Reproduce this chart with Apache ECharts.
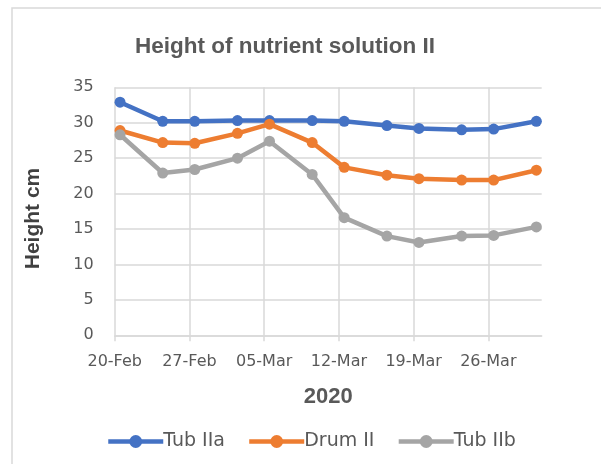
<!DOCTYPE html>
<html lang="en">
<head>
  <meta charset="UTF-8">
  <title>Height of nutrient solution II</title>
  <script src="https://cdn.jsdelivr.net/npm/echarts@6/dist/echarts.min.js"></script>
  <style>
    html, body { margin: 0; padding: 0; background: #fff; }
    #main { width: 601px; height: 464px; }
  </style>
</head>
<body>
  <div id="main"></div>
  <script>
    // measurement dates (2020) and heights in cm
    var dates = ['2020-02-20', '2020-02-24', '2020-02-27', '2020-03-02', '2020-03-05', '2020-03-09',
                 '2020-03-12', '2020-03-16', '2020-03-19', '2020-03-23', '2020-03-26', '2020-03-30'];
    var tubIIa  = [32.9, 30.2, 30.2, 30.3, 30.3, 30.3, 30.2, 29.6, 29.2, 29.0, 29.1, 30.2];
    var drumII  = [28.9, 27.2, 27.1, 28.5, 29.8, 27.2, 23.7, 22.6, 22.1, 21.9, 21.9, 23.3];
    var tubIIb  = [28.3, 22.9, 23.4, 25.0, 27.4, 22.7, 16.6, 14.0, 13.1, 14.0, 14.1, 15.3];
    var seriesNames = ['Tub IIa', 'Drum II', 'Tub IIb'];
    var colors = ['#4472C4', '#ED7D31', '#A5A5A5'];
    var months = ['Jan', 'Feb', 'Mar', 'Apr'];

    var startDay = Date.UTC(2020, 1, 20);
    var DAY = 86400000;

    // day offset from 20-Feb, points sit in the middle of their day
    function dayPos(s) {
      var p = s.split('-');
      return (Date.UTC(+p[0], +p[1] - 1, +p[2]) - startDay) / DAY + 0.5;
    }
    function fmtDay(v) {
      var d = new Date(startDay + v * DAY);
      var dd = d.getUTCDate();
      return (dd < 10 ? '0' + dd : dd) + '-' + months[d.getUTCMonth()];
    }
    function pairs(vals) {
      return vals.map(function (v, i) { return [dayPos(dates[i]), v]; });
    }

    var myChart = echarts.init(document.getElementById('main'));

    var font = 'DejaVu Sans';
    var gridColor = '#d9d9d9';

    var option = {
      animation: false,
      color: colors,
      title: {
        text: 'Height of nutrient solution II',
        left: 280,
        top: 30,
        textAlign: 'center',
        textStyle: { fontFamily: 'Liberation Sans', fontWeight: 'bold', fontSize: 22.5, color: '#595959' }
      },
      graphic: [
        {
          type: 'rect',
          shape: { x: 12, y: 8, width: 640, height: 500 },
          style: { fill: 'none', stroke: gridColor, lineWidth: 1.5 }
        },
        {
          type: 'text',
          x: 33.5, y: 218.5,
          rotation: Math.PI / 2,
          style: {
            text: 'Height cm',
            fontFamily: 'Liberation Sans', fontWeight: 'bold', fontSize: 21,
            fill: '#404040', align: 'center', verticalAlign: 'middle'
          }
        }
      ],
      legend: {
        data: seriesNames,
        left: 101,
        top: 427,
        itemWidth: 55,
        itemHeight: 16,
        itemGap: 22,
        lineStyle: { width: 4.5 },
        textStyle: { fontFamily: font, fontSize: 19, color: '#595959', padding: [0, 0, 0, -5] }
      },
      grid: { left: 114.7, right: 59.3, top: 87.3, bottom: 128.7, containLabel: false },
      xAxis: {
        type: 'value',
        min: 0,
        max: 40,
        interval: 7,
        name: '2020',
        nameLocation: 'middle',
        nameGap: 51,
        nameTextStyle: { fontFamily: 'Liberation Sans', fontWeight: 'bold', fontSize: 22, color: '#595959' },
        axisLine: { show: true, lineStyle: { color: gridColor, width: 1.5 } },
        axisTick: { show: true, length: 6, lineStyle: { color: gridColor, width: 1.5 } },
        axisLabel: {
          margin: 19, fontFamily: font, fontSize: 16, color: '#595959',
          showMaxLabel: false,
          formatter: function (v) { return fmtDay(v); }
        },
        splitLine: { show: true, showMaxLine: false, lineStyle: { color: gridColor, width: 1.5 } }
      },
      yAxis: {
        type: 'value',
        min: 0,
        max: 35,
        interval: 5,
        axisLine: { show: false },
        axisTick: { show: false },
        axisLabel: { margin: 21, fontFamily: font, fontSize: 16, color: '#595959' },
        splitLine: { lineStyle: { color: gridColor, width: 1.5 } }
      },
      series: [
        { name: seriesNames[0], type: 'line', data: pairs(tubIIa) },
        { name: seriesNames[1], type: 'line', data: pairs(drumII) },
        { name: seriesNames[2], type: 'line', data: pairs(tubIIb) }
      ].map(function (s) {
        s.symbol = 'circle';
        s.symbolSize = 11;
        s.lineStyle = { width: 4.5 };
        return s;
      })
    };

    myChart.setOption(option);
  </script>
</body>
</html>
